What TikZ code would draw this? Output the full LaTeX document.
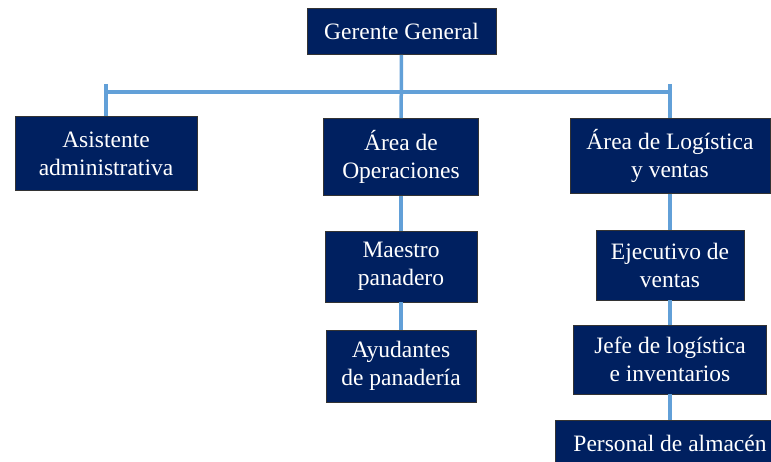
\documentclass[tikz,border=0pt]{standalone}
\usepackage{fontspec}
\setmainfont{Liberation Serif}
\usepackage{xcolor}
\usepackage{tikz}
\usetikzlibrary{positioning}

\definecolor{navy}{RGB}{0,32,96}
\definecolor{linkblue}{RGB}{98,160,216}

\begin{document}
\begin{tikzpicture}[
    x=1pt, y=-1pt,
    box/.style={rectangle, draw=black!80, line width=0.8pt, fill=navy, text=white, align=center, inner sep=0pt,
        font=\fontsize{23.5}{28}\selectfont},
    link/.style={draw=linkblue, line width=3.5pt}
]
\useasboundingbox (0,0) rectangle (771,462);

\node[box, minimum width=189pt, minimum height=46pt] (gg) at (401.5,31.5) {Gerente General};
\node[box, minimum width=182pt, minimum height=74pt] (asis) at (106,153.5) {Asistente\\administrativa};
\node[box, minimum width=155pt, minimum height=77pt] (ops) at (401,157) {Área de\\Operaciones};
\node[box, minimum width=200pt, minimum height=75pt] (log) at (670,156) {Área de Logística\\y ventas};
\node[box, minimum width=152pt, minimum height=71pt] (mae) at (401,266.5) {Maestro\\panadero};
\node[box, minimum width=150pt, minimum height=72pt] (ayu) at (401,366) {Ayudantes\\de panadería};
\node[box, minimum width=148pt, minimum height=70pt] (eje) at (670,265) {Ejecutivo de\\ventas};
\node[box, minimum width=193pt, minimum height=69pt] (jefe) at (670,359.5) {Jefe de logística\\e inventarios};
\node[box, minimum width=230pt, minimum height=46pt] (pers) at (670,443) {Personal de almacén};

\coordinate (bus) at (401,92);
\coordinate (stubL) at (106,84);
\coordinate (stubR) at (670,84);

\draw[link] (gg) -- (ops);
\draw[link] (stubL) -- (asis.north);
\draw[link] (stubR) -- (log.north);
\draw[link] (stubL |- bus) -- (stubR |- bus);
\draw[link] (ops) -- (mae);
\draw[link] (mae) -- (ayu);
\draw[link] (log) -- (eje);
\draw[link] (eje) -- (jefe);
\draw[link] (jefe) -- (pers);

\end{tikzpicture}
\end{document}
